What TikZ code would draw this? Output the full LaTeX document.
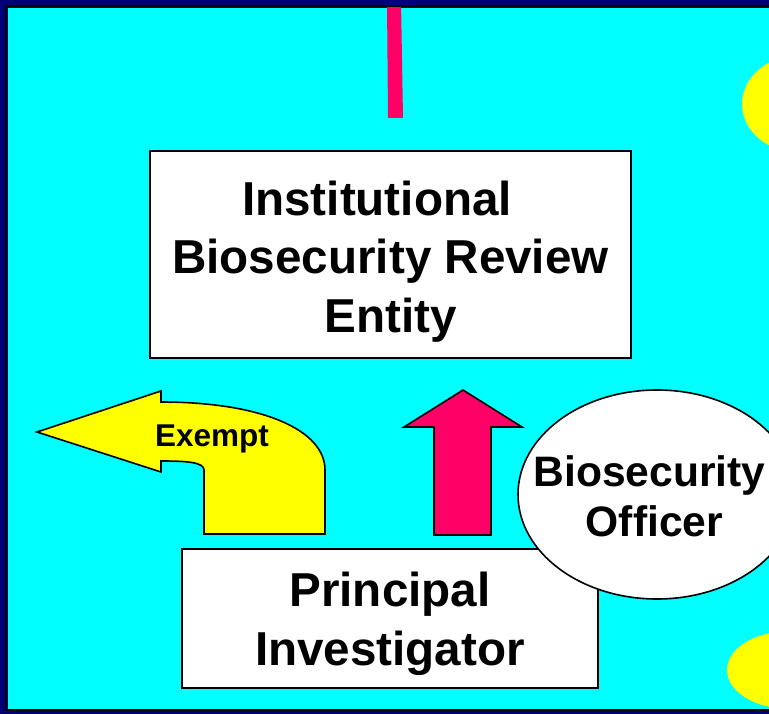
\documentclass[tikz,border=0pt]{standalone}
\usepackage{fontspec}
\setmainfont{Liberation Sans}
\usetikzlibrary{shapes.geometric}
\definecolor{navy}{RGB}{0,0,120}
\definecolor{bgcyan}{RGB}{0,255,255}
\definecolor{hotpink}{RGB}{255,0,102}
\definecolor{yel}{RGB}{255,255,0}
\tikzset{
  box/.style={draw=black, line width=1.6pt, fill=white, inner sep=0pt},
  boxtext/.style={align=center, inner sep=0pt, font=\bfseries\fontsize{47.6}{58.7}\selectfont},
  oval/.style={ellipse, draw=black, line width=1.6pt, fill=white, inner sep=0pt},
  ovaltext/.style={align=center, inner sep=0pt, font=\bfseries\fontsize{42.6}{50}\selectfont},
  blockarrow/.style={draw=black, line width=1.6pt, line join=miter},
}
\begin{document}
\begin{tikzpicture}[x=1pt,y=-1pt]
\useasboundingbox (0,0) rectangle (769,714);
\fill[navy] (0,0) rectangle (769,714);
\fill[bgcyan] (8,8) rectangle (769,709);
\draw[black, line width=2pt] (6,6) -- (6,710) -- (769,710);
\draw[black, line width=2pt] (6,6) -- (769,6);
\begin{scope}
\clip (8,8) rectangle (769,709);
\fill[yel] (800,104) ellipse [x radius=58, y radius=49];
\fill[yel] (790,670) ellipse [x radius=63, y radius=39];
\fill[hotpink] (387,0) -- (401,0) -- (403,118) -- (388,118) -- cycle;
\end{scope}
\node[box, minimum width=481pt, minimum height=207pt] (ibre) at (390.5,254.5) {};
\node[boxtext] (ibretext) at (390.5,261.5)
  {Institutional\hspace*{27pt}\\Biosecurity Review\\Entity};
% yellow curved Exempt arrow
\draw[blockarrow, fill=yel] (37,432) -- (161,391) -- (161,402)
  .. controls (262,402) and (325,430) .. (325,470) -- (325,534) -- (204,534) -- (204,470)
  .. controls (204,462) and (186,461) .. (161,461) -- (161,472) -- cycle;
\node[font=\bfseries\fontsize{31.5}{35}\selectfont, inner sep=0pt, anchor=base] (exempt) at (212,446) {Exempt};
% pink up arrow
\draw[blockarrow, fill=hotpink] (434,535) -- (434,427) -- (404,427) -- (463,390) -- (522,427)
  -- (491,427) -- (491,535) -- cycle;
\node[box, minimum width=416pt, minimum height=139pt] (pi) at (390,618.5) {};
\node[boxtext] (pitext) at (390,623.5) {Principal\\Investigator};
\begin{scope}
\clip (8,8) rectangle (769,709);
\node[oval, minimum width=278pt, minimum height=209pt] (bo) at (657,494.5) {};
\node[ovaltext] (botext) at (649.5,496.5) {Biosecurity\\\hspace*{10pt}Officer};
\end{scope}
\end{tikzpicture}
\end{document}
